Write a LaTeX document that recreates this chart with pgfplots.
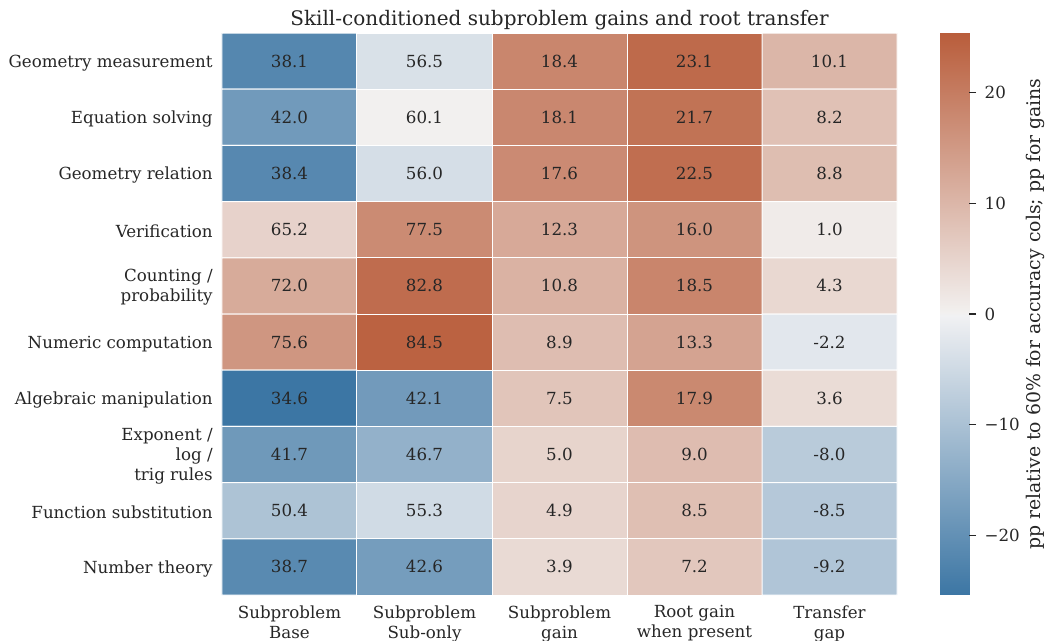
\documentclass[border=0pt]{standalone}
\usepackage{pgfplots}
\pgfplotsset{compat=1.18}
\usepackage{pgfplotstable}
\usepackage{fontspec}
\setmainfont{DejaVu Serif}
\definecolor{txt}{RGB}{38,38,38}
\pgfplotsset{
  divmap/.style={colormap={div}{rgb255(0pt)=(60,118,164); rgb255(100pt)=(241,241,243); rgb255(101pt)=(242,240,239); rgb255(201pt)=(185,93,59)},
  point meta min=-25.4, point meta max=25.4},
}
\pgfplotstableread{
x y c lab
0 0 -21.9 38.1
1 0 -3.5 56.5
2 0 18.4 18.4
3 0 23.1 23.1
4 0 10.1 10.1
0 1 -18.0 42.0
1 1 0.1 60.1
2 1 18.1 18.1
3 1 21.7 21.7
4 1 8.2 8.2
0 2 -21.6 38.4
1 2 -4.0 56.0
2 2 17.6 17.6
3 2 22.5 22.5
4 2 8.8 8.8
0 3 5.2 65.2
1 3 17.5 77.5
2 3 12.3 12.3
3 3 16.0 16.0
4 3 1.0 1.0
0 4 12.0 72.0
1 4 22.8 82.8
2 4 10.8 10.8
3 4 18.5 18.5
4 4 4.3 4.3
0 5 15.6 75.6
1 5 24.5 84.5
2 5 8.9 8.9
3 5 13.3 13.3
4 5 -2.2 -2.2
0 6 -25.4 34.6
1 6 -17.9 42.1
2 6 7.5 7.5
3 6 17.9 17.9
4 6 3.6 3.6
0 7 -18.3 41.7
1 7 -13.3 46.7
2 7 5.0 5.0
3 7 9.0 9.0
4 7 -8.0 -8.0
0 8 -9.6 50.4
1 8 -4.7 55.3
2 8 4.9 4.9
3 8 8.5 8.5
4 8 -8.5 -8.5
0 9 -21.3 38.7
1 9 -17.4 42.6
2 9 3.9 3.9
3 9 7.2 7.2
4 9 -9.2 -9.2
}\data
\begin{document}
\begin{tikzpicture}
\begin{axis}[name=main,
  scale only axis, width=405pt, height=337.2pt,
  xmin=-0.5, xmax=4.5, ymin=-0.5, ymax=9.5, y dir=reverse,
  enlargelimits=false,
  axis line style={draw=none},
  major tick length=0pt,
  tick label style={inner sep=0pt, text=txt, font=\fontsize{10}{12}\selectfont},
  xtick={0,1,2,3,4},
  xticklabels={{Subproblem\\Base},{Subproblem\\Sub-only},{Subproblem\\gain},{Root gain\\when present},{Transfer\\gap}},
  xticklabel style={align=center, yshift=-6.2pt},
  ytick={0,1,2,3,4,5,6,7,8,9},
  yticklabels={{Geometry measurement},{Equation solving},{Geometry relation},{Verification},{Counting /\\probability},{Numeric computation},{Algebraic manipulation},{Exponent /\\log /\\trig rules},{Function substitution},{Number theory}},
  yticklabel style={align=right, xshift=-5.4pt, yshift=-1pt},
  divmap,
  title={Skill-conditioned subproblem gains and root transfer},
  title style={text=txt, font=\fontsize{12}{14}\selectfont, yshift=-7.8pt},
]
\addplot[matrix plot*, mesh/cols=5, mesh/rows=10, point meta=explicit, draw=white, line width=0.6pt]
  table[x=x, y=y, meta=c]{\data};
\addplot[draw=none, mark=none, point meta=explicit symbolic, nodes near coords,
  every node near coord/.append style={anchor=center, text=txt, font=\fontsize{10}{12}\selectfont}]
  table[x=x, y=y, meta=lab]{\data};
\end{axis}
\begin{axis}[name=cb,
  at={(main.north east)}, anchor=north west, xshift=25.8pt,
  scale only axis, width=17.4pt, height=337.2pt,
  xmin=0, xmax=1, ymin=-25.4, ymax=25.4, enlargelimits=false,
  clip=false,
  hide x axis,
  axis y line*=right,
  y axis line style={draw=none, -},
  ytick={-20,-10,0,10,20},
  yticklabels={−20,−10,0,10,20},
  tick align=outside, major tick length=4.2pt,
  every major tick/.append style={draw=txt, line width=0.8pt},
  yticklabel style={inner sep=0pt, xshift=5pt, text=txt, font=\fontsize{10}{12}\selectfont},
  ylabel={pp relative to 60\% for accuracy cols; pp for gains},
  ylabel near ticks,
  ylabel style={text=txt, font=\fontsize{11.3}{13}\selectfont},
  divmap,
]
\addplot[surf, shader=interp, mesh/rows=3, point meta=y] coordinates {
(0,-25.4) (1,-25.4)

(0,0) (1,0)

(0,25.4) (1,25.4)
};
\addplot[txt, line width=0.8pt, mark=none, forget plot] coordinates {(1,-20) (1.24,-20)};
\addplot[txt, line width=0.8pt, mark=none, forget plot] coordinates {(1,-10) (1.24,-10)};
\addplot[txt, line width=0.8pt, mark=none, forget plot] coordinates {(1,0) (1.24,0)};
\addplot[txt, line width=0.8pt, mark=none, forget plot] coordinates {(1,10) (1.24,10)};
\addplot[txt, line width=0.8pt, mark=none, forget plot] coordinates {(1,20) (1.24,20)};
\end{axis}
\pgfresetboundingbox
\path (main.south west) ++(-133.2pt,-27pt) rectangle ++(631.2pt,384pt);
\end{tikzpicture}
\end{document}
